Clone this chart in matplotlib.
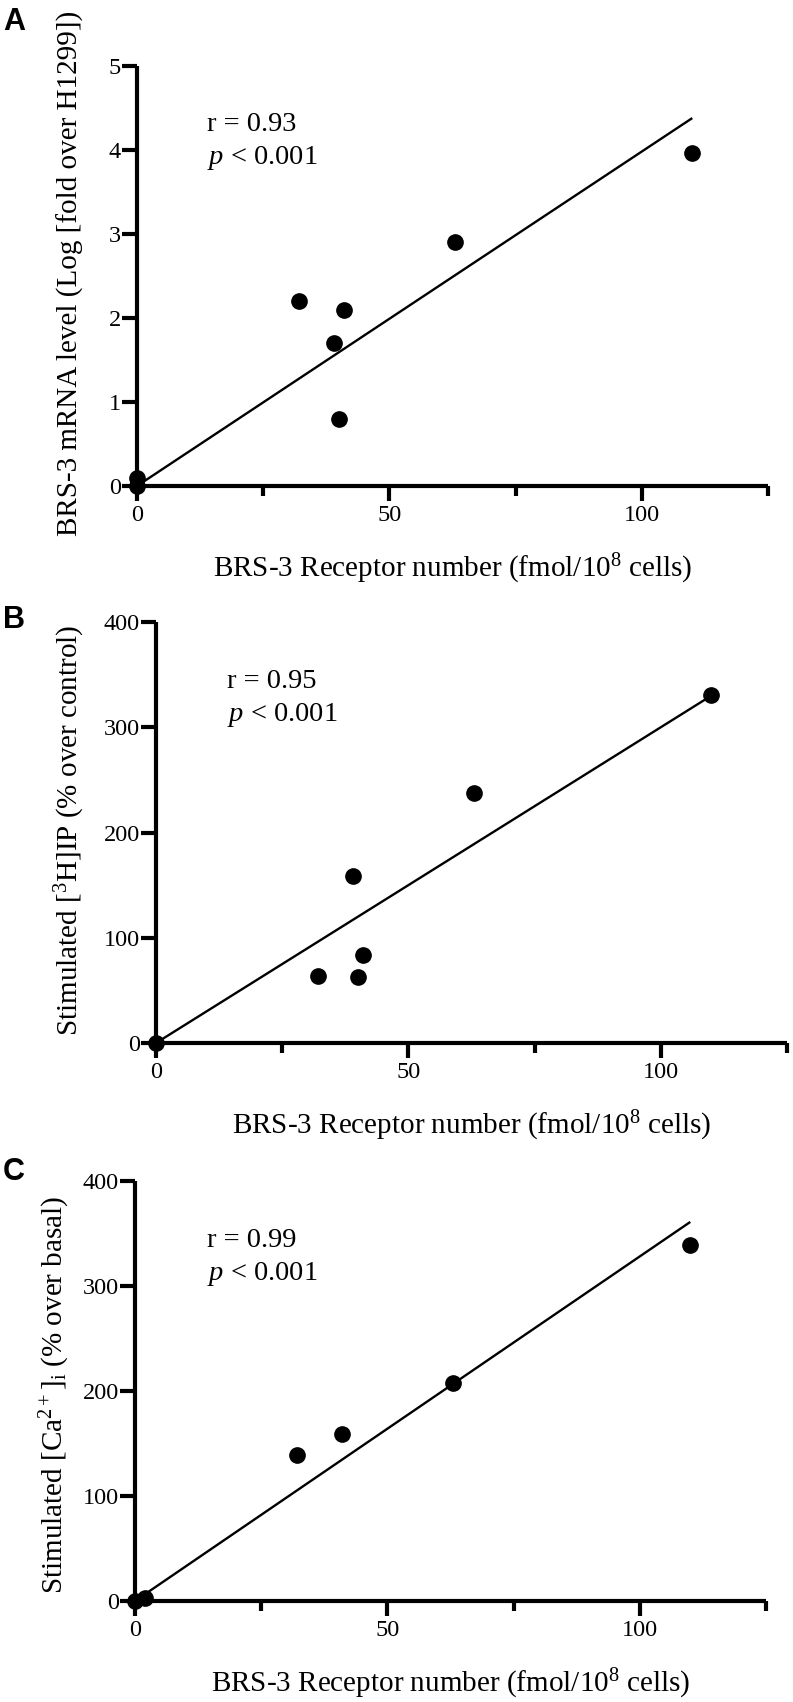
import matplotlib
matplotlib.use("Agg")
import matplotlib.pyplot as plt
import numpy as np

plt.rcParams['font.family'] = ['Liberation Serif', 'DejaVu Serif']
plt.rcParams['mathtext.fontset'] = 'custom'
plt.rcParams['mathtext.rm'] = 'Liberation Serif'
plt.rcParams['mathtext.it'] = 'Liberation Serif:italic'

# ---- data ----
a_x = [0, 0, 32, 39, 40, 41, 63, 110]
a_y = [0, 0.1, 2.2, 1.7, 0.8, 2.1, 2.9, 3.97]
a_fit_x = [0, 110]
a_fit_y = [0, 4.38]

b_x = [0, 32, 39, 40, 41, 63, 110]
b_y = [0, 64, 159, 63, 84, 238, 331]
b_fit_x = [0, 110]
b_fit_y = [0, 330]

c_x = [0, 2, 32, 41, 63, 110]
c_y = [0, 3, 139, 159, 208, 339]
c_fit_x = [0, 110]
c_fit_y = [0, 361]

x_major = [0, 50, 100]
x_minor = [25, 75, 125]
a_yticks = [0, 1, 2, 3, 4, 5]
bc_yticks = [0, 100, 200, 300, 400]

stats = [("r = 0.93", "$p$ < 0.001"), ("r = 0.95", "$p$ < 0.001"), ("r = 0.99", "$p$ < 0.001")]
ylabels = ["BRS-3 mRNA level (Log [fold over H1299])",
           "Stimulated [$^3$H]IP (% over control)",
           "Stimulated [Ca$^{2+}$]$_\\mathrm{i}$ (% over basal)"]
xlabel = "BRS-3 Receptor number (fmol/10$^8$ cells)"
letters = ["A", "B", "C"]

W, H = 793, 1702
fig = plt.figure(figsize=(W / 100, H / 100), dpi=100)

def fx(px):
    return px / W

def fy(py):
    return 1 - py / H

# axes boxes in pixels: left, right, top, bottom
boxes = [(137, 768, 66, 486), (156, 787, 622, 1043), (135, 766, 1181, 1601)]
datasets = [(a_x, a_y, a_fit_x, a_fit_y, 5, a_yticks),
            (b_x, b_y, b_fit_x, b_fit_y, 400, bc_yticks),
            (c_x, c_y, c_fit_x, c_fit_y, 400, bc_yticks)]
stat_pos = [(207, 131, 164), (227, 688, 721), (207, 1247, 1280)]
ylabel_pos = [(70, 273), (70, 830), (55, 1395)]
letter_pos = [(3, 30), (3, 628), (3, 1180)]

for i in range(3):
    l, r, t, b = boxes[i]
    ax = fig.add_axes([fx(l), fy(b), fx(r) - fx(l), (b - t) / H])
    xs, ys, fxv, fyv, ymax, yt = datasets[i]
    ax.plot(fxv, fyv, color='black', lw=1.7, solid_capstyle='butt', zorder=2)
    ax.plot(xs, ys, 'o', color='black', ms=11, clip_on=False, zorder=3)
    ax.set_xlim(0, 125)
    ax.set_ylim(0, ymax)
    for s in ['top', 'right']:
        ax.spines[s].set_visible(False)
    for s in ['left', 'bottom']:
        ax.spines[s].set_linewidth(3.0)
        ax.spines[s].set_capstyle('butt')
    ax.set_xticks(x_major)
    ax.set_xticks(x_minor, minor=True)
    ax.set_yticks(yt)
    ax.tick_params(which='major', direction='out', length=10.5, width=3.0,
                   labelsize=17.5)
    ax.tick_params(which='minor', direction='out', length=7, width=3.0)
    ax.tick_params(axis='x', which='major', pad=3)
    ax.tick_params(axis='y', which='major', pad=1)
    ax.set_xticklabels([str(v) for v in x_major])
    ax.set_yticklabels([str(v) for v in yt])
    ax.patch.set_alpha(0)

    sx, sy1, sy2 = stat_pos[i]
    fig.text(fx(sx), fy(sy1), stats[i][0], fontsize=20.5, va='baseline', ha='left')
    fig.text(fx(sx), fy(sy2), stats[i][1], fontsize=20.5, va='baseline', ha='left')

    lx, ly = ylabel_pos[i]
    fig.text(fx(lx), fy(ly), ylabels[i], fontsize=21, rotation=90,
             ha='center', va='center')
    fig.text(fx((l + r) / 2), fy(b + 91), xlabel, fontsize=21,
             ha='center', va='baseline')
    px, py = letter_pos[i]
    fig.text(fx(px), fy(py), letters[i], fontsize=22, fontweight='bold',
             family='Liberation Sans', ha='left', va='baseline')

fig.savefig("out.png", dpi=100)
